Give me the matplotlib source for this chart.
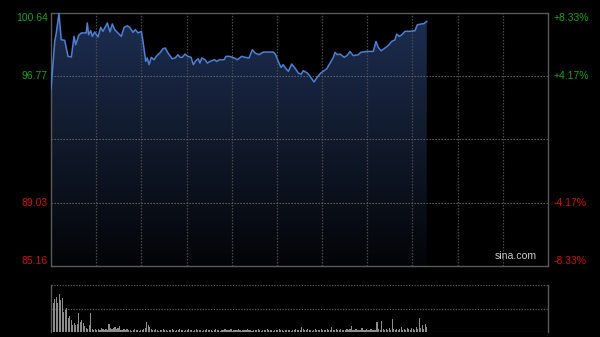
#!/usr/bin/env python3
"""Intraday price chart (sina style) with volume panel."""

import matplotlib

matplotlib.use("Agg")
import matplotlib.pyplot as plt
import numpy as np
from matplotlib.patches import Polygon

# session length in minutes (09:30-12:00, 13:00-16:00)
SESSION_MINUTES = 330
GRID_STEP = 30

prev_close = 92.90
price_levels = [100.64, 96.77, 89.03, 85.16]
pct_labels = ["+8.33%", "+4.17%", "-4.17%", "-8.33%"]

minutes = [
    0, 2.5, 3.5, 5.3, 6.8, 9.1, 11.3, 13.5, 15.3, 16.4, 18.4, 20.1, 23.4, 24.1,
    25.0, 26.4, 27.4, 29.0, 31.2, 33.0, 34.5, 37.4, 39.2, 40.7, 42.3, 45.6, 46.7,
    48.5, 50.7, 52.3, 54.4, 56.0, 57.8, 60.0, 61.1, 62.9, 63.9, 65.1, 66.6, 68.4,
    69.9, 72.2, 74.4, 75.9, 77.7, 80.5, 82.5, 84.3, 85.7, 87.2, 89.0, 90.8, 93.0,
    94.5, 96.1, 97.8, 98.9, 100.1, 102.3, 103.8, 105.6, 108.4, 110.0, 111.8, 114.9,
    116.2, 118.4, 121.7, 123.7, 126.6, 128.8, 131.5, 133.7, 135.5, 138.1, 141.0,
    144.3, 147.6, 149.2, 150.9, 152.7, 154.2, 155.4, 157.6, 159.8, 162.0, 164.2,
    166.0, 167.5, 170.2, 172.0, 174.6, 176.8, 179.1, 181.3, 183.1, 185.3, 187.5,
    188.6, 190.1, 191.9, 194.7, 196.7, 198.5, 200.7, 204.1, 205.6, 209.6, 214.0,
    215.8, 217.3, 219.1, 221.8, 224.0, 226.2, 228.4, 229.5, 231.3, 232.9, 235.1,
    238.4, 241.7, 243.2, 246.1, 247.6, 249.5,
]
prices = [
    95.99, 98.93, 99.42, 100.64, 99.00, 98.97, 97.99, 97.95, 99.21, 98.70, 99.28,
    99.42, 99.42, 100.03, 99.31, 99.56, 99.21, 99.48, 99.17, 99.76, 99.52, 100.03,
    99.48, 99.97, 99.62, 99.31, 99.21, 99.76, 99.86, 99.76, 99.46, 99.62, 99.42,
    99.52, 98.90, 97.68, 97.89, 97.48, 97.93, 97.78, 97.99, 98.19, 98.46, 98.50,
    98.19, 97.84, 97.89, 98.09, 97.93, 97.93, 98.13, 97.99, 97.93, 97.48, 97.72,
    97.84, 97.58, 97.89, 97.78, 97.58, 97.68, 97.78, 97.68, 97.78, 97.78, 97.99,
    97.99, 97.89, 97.78, 97.99, 97.93, 97.89, 98.40, 98.19, 98.09, 98.25, 98.25,
    98.25, 98.09, 97.68, 97.31, 97.48, 97.31, 97.07, 97.52, 97.27, 96.97, 96.89,
    97.11, 96.97, 96.77, 96.42, 96.71, 96.97, 97.11, 97.23, 97.58, 97.93, 98.23,
    98.09, 98.13, 97.93, 98.05, 98.29, 98.03, 98.09, 98.23, 98.29, 98.29, 98.90,
    98.54, 98.33, 98.50, 98.66, 98.90, 99.00, 99.35, 99.21, 99.31, 99.52, 99.52,
    99.56, 99.92, 99.97, 99.99, 100.13,
]

# per-minute volume (relative units, 47 = panel top)
volumes = [
    47, 29, 33, 35, 29, 38, 32, 34, 20, 22,
    24, 14, 16, 12, 7, 9, 7, 8, 19, 10,
    12, 9, 6, 4, 3, 7, 19, 3, 2, 3,
    2, 3, 2, 4, 3, 2, 3, 2, 8, 4,
    3, 4, 5, 3, 4, 6, 2, 2, 3, 2,
    3, 2, 2, 1, 2, 3, 2, 2, 1, 2,
    2, 3, 4, 10, 7, 5, 3, 2, 2, 3,
    2, 1, 2, 2, 3, 2, 2, 1, 2, 2,
    3, 2, 1, 2, 2, 3, 2, 2, 1, 2,
    2, 3, 2, 2, 1, 2, 3, 2, 2, 2,
    1, 2, 2, 3, 2, 2, 2, 1, 2, 3,
    2, 2, 1, 2, 2, 3, 2, 2, 2, 3,
    1, 2, 2, 2, 3, 2, 1, 2, 2, 2,
    3, 2, 2, 1, 2, 2, 2, 3, 2, 1,
    2, 2, 2, 3, 2, 2, 2, 1, 2, 2,
    2, 3, 2, 2, 1, 2, 2, 2, 2, 1,
    2, 2, 3, 2, 2, 2, 5, 3, 2, 2,
    3, 2, 2, 1, 2, 3, 2, 2, 2, 3,
    2, 2, 2, 3, 2, 2, 5, 2, 2, 3,
    2, 2, 3, 2, 2, 2, 3, 2, 3, 6,
    2, 2, 3, 2, 2, 2, 4, 2, 2, 3,
    2, 2, 3, 2, 2, 2, 10, 3, 2, 11,
    3, 2, 3, 2, 4, 2, 13, 3, 2, 3,
    2, 3, 5, 2, 3, 2, 4, 3, 2, 4,
    3, 2, 5, 3, 14, 4, 7, 3, 8, 5,
]

BG = "#000000"
FRAME = "#5a5a5a"
GRID = "#4a4a4a"
UP = "#1ea01e"
DOWN = "#d01010"
LINE = "#4d80d4"

plt.rcParams["font.family"] = ["Liberation Sans", "DejaVu Sans"]

fig = plt.figure(figsize=(6.0, 3.37), dpi=100, facecolor=BG)
ax = fig.add_axes([51 / 600, 1 - 266 / 337, 497 / 600, 253 / 337], facecolor=BG)
vax = fig.add_axes([51 / 600, 1 - 332 / 337, 497 / 600, 47 / 337], facecolor=BG)

lo, hi = price_levels[-1], price_levels[0]
ax.set_xlim(0, SESSION_MINUTES)
ax.set_ylim(lo, hi)

# gradient fill under the price line (dark navy at the top fading to black)
x = np.asarray(minutes, dtype=float)
y = np.asarray(prices, dtype=float)
poly_xy = np.vstack([np.column_stack([x, y]), [[x[-1], lo], [x[0], lo]]])
clip = Polygon(poly_xy, closed=True, facecolor="none", edgecolor="none")
ax.add_patch(clip)
grad = np.linspace(0, 1, 256).reshape(-1, 1)
cmap = matplotlib.colors.LinearSegmentedColormap.from_list("fill", ["#1d2e52", "#111a2c", "#030406"])
img = ax.imshow(grad, aspect="auto", cmap=cmap, extent=[x[0], x[-1], lo, hi], origin="upper", zorder=1)
img.set_clip_path(clip)

# grid
for m in range(GRID_STEP, SESSION_MINUTES, GRID_STEP):
    ax.axvline(m, color=GRID, lw=0.9, ls=(0, (1.2, 1.2)), zorder=2)
for lvl in price_levels[1:-1] + [prev_close]:
    ax.axhline(lvl, color="#6a6a6a", lw=0.8, ls=(0, (1.2, 1.5)), zorder=2)

ax.plot(x, y, color=LINE, lw=1.1, zorder=3)

for s in ax.spines.values():
    s.set_color(FRAME)
    s.set_linewidth(1.0)
ax.set_xticks([])
ax.set_yticks(price_levels)
ax.set_yticklabels([f"{v:.2f}" for v in price_levels])
ax.tick_params(axis="y", length=0, pad=2.5, labelsize=7.5)

rax = ax.twinx()
rax.set_ylim(lo, hi)
rax.set_yticks(price_levels)
rax.set_yticklabels(pct_labels)
rax.tick_params(axis="y", length=0, pad=4, labelsize=7.5)
for s in rax.spines.values():
    s.set_visible(False)

valign = ["top", "center", "center", "bottom"]
for labels in (ax.get_yticklabels(), rax.get_yticklabels()):
    for lab, lvl, va in zip(labels, price_levels, valign):
        lab.set_color(UP if lvl > prev_close else DOWN)
        lab.set_verticalalignment(va)

ax.text(0.978, 0.018, "sina.com", transform=ax.transAxes, ha="right", va="bottom",
        color="#c8c8c8", fontsize=7.6, zorder=4)

# volume panel
vax.set_xlim(0, SESSION_MINUTES)
vax.set_ylim(0, 47)
vax.bar(np.arange(len(volumes)) + 0.5, volumes, width=0.75, color="#8c8c8c", zorder=2)
for lvl in (23.5, 47):
    vax.axhline(lvl, color="#5e5e5e", lw=0.9, ls=(0, (1, 1.2)), zorder=1)
vax.axhline(0, color="#5e5e5e", lw=0.9, ls=(0, (1, 1.2)), zorder=1)
for side in ("top", "bottom"):
    vax.spines[side].set_visible(False)
for side in ("left", "right"):
    vax.spines[side].set_color(FRAME)
    vax.spines[side].set_linewidth(1.0)
vax.set_xticks([])
vax.set_yticks([])

fig.savefig("out.png", dpi=100, facecolor=BG)
